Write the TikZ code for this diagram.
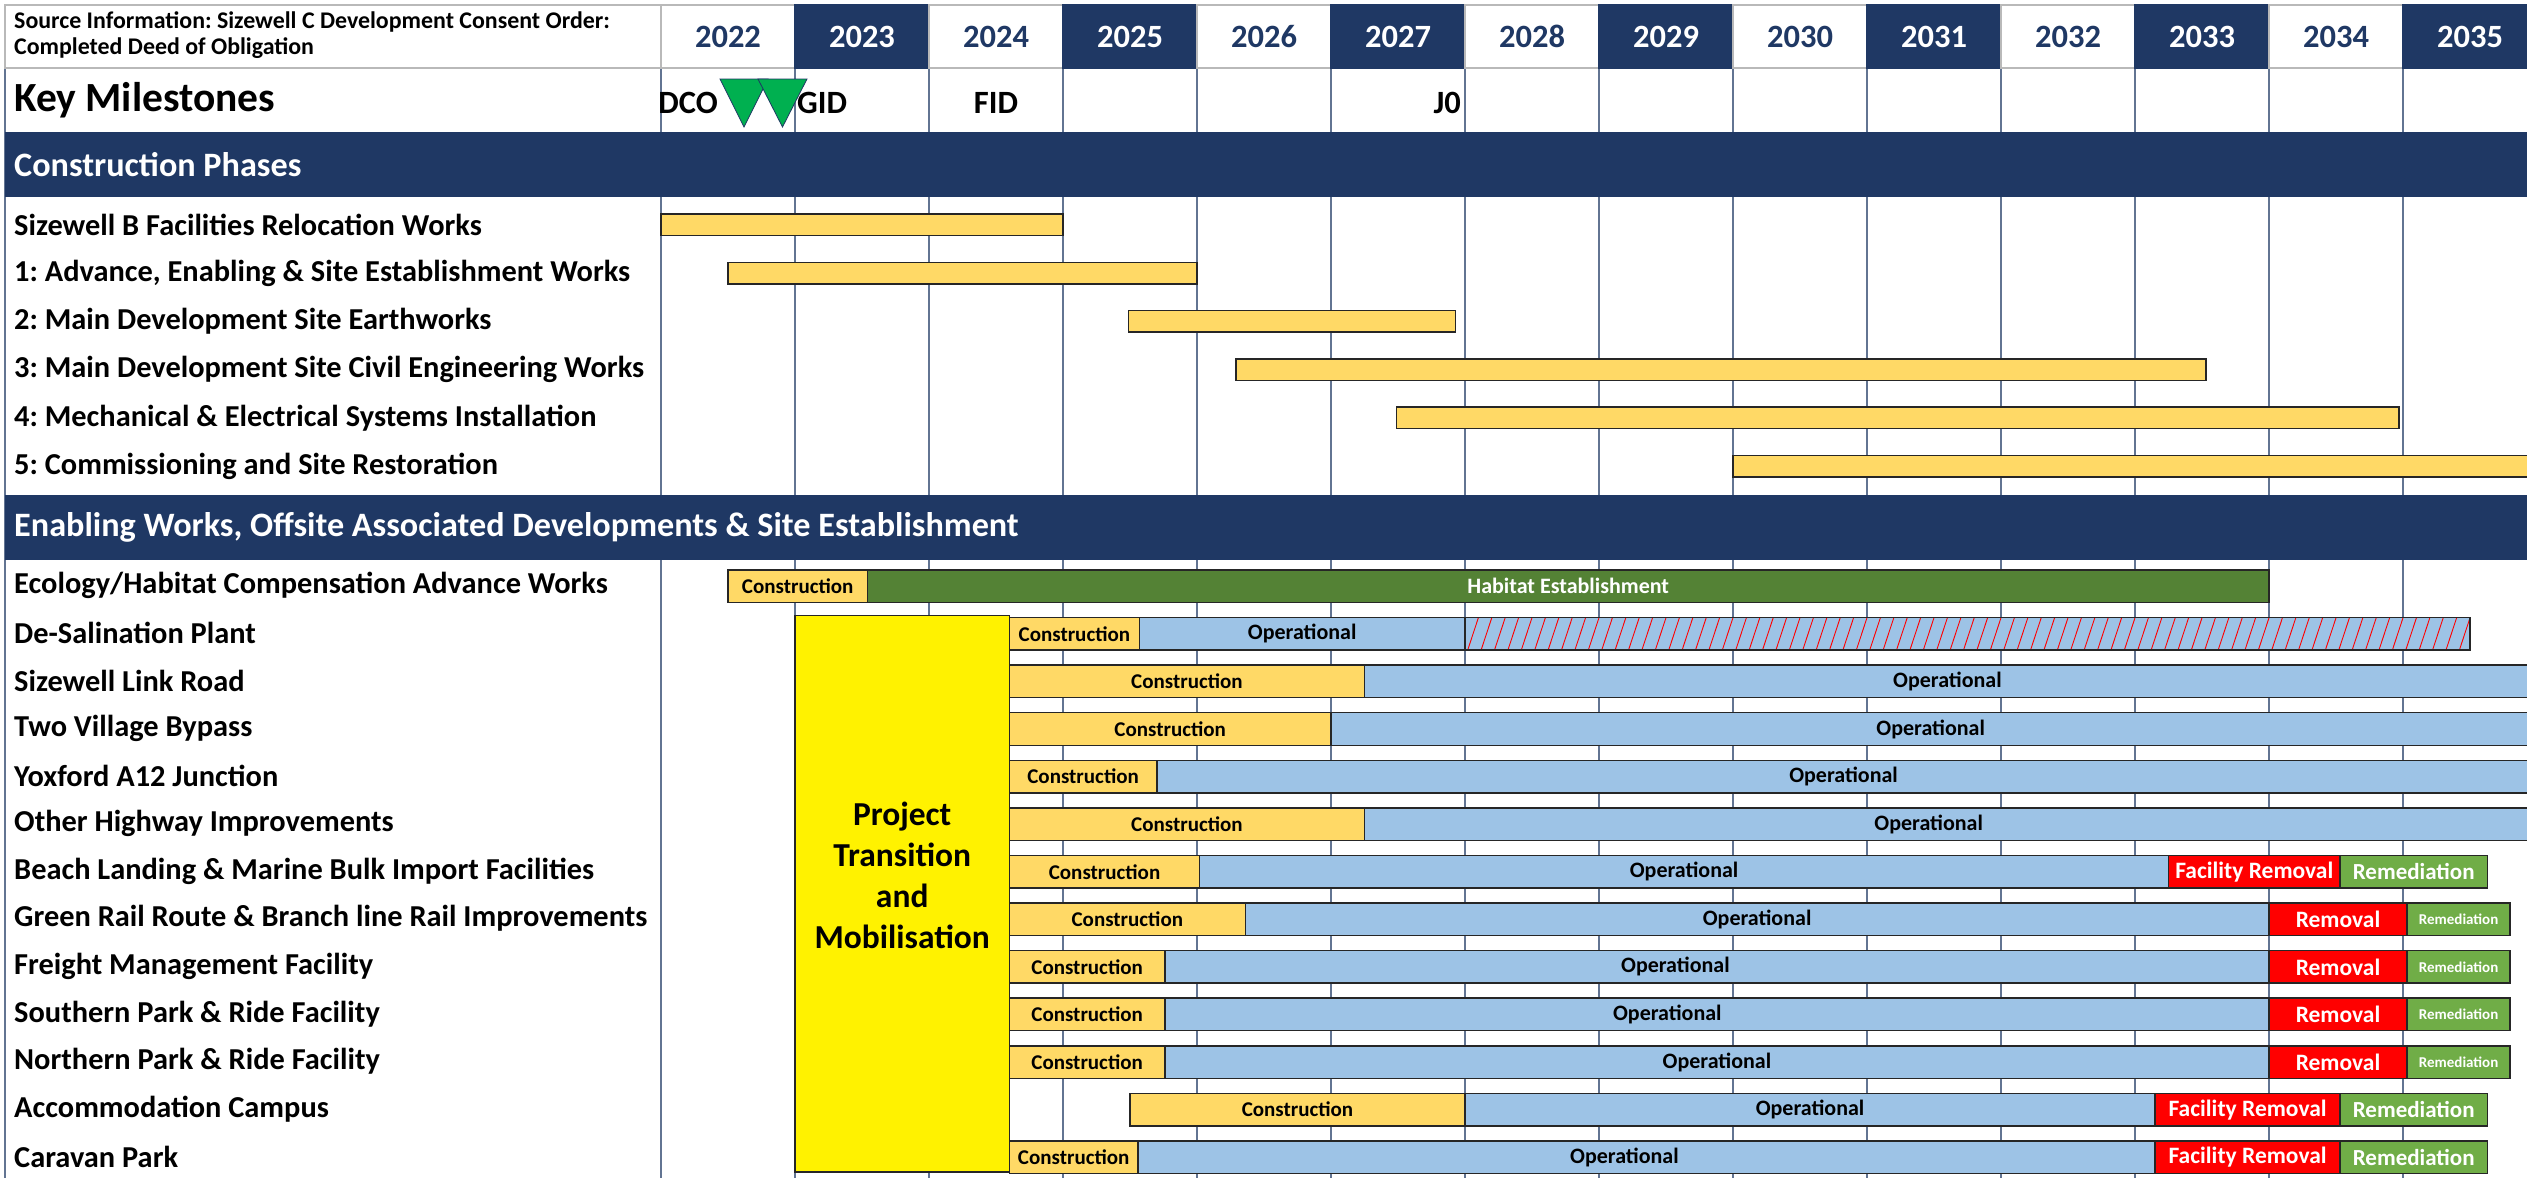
\documentclass[tikz,border=0pt]{standalone}
\usepackage{fontspec}
\setmainfont{Carlito}
\frenchspacing

\definecolor{navy}{HTML}{1F3864}
\definecolor{congold}{HTML}{FFD966}
\definecolor{opblue}{HTML}{9DC3E6}
\definecolor{habgreen}{HTML}{548235}
\definecolor{remgreen}{HTML}{70AD47}
\definecolor{msgreen}{HTML}{00B050}

\tikzset{
    gridln/.style={draw=navy!70, line width=1.2pt},
    hdrcell/.style={draw=gray!55, line width=1.5pt, fill=white, font=\bfseries\fontsize{32.5}{34}\selectfont},
    hdrnavy/.style={hdrcell, draw=navy, fill=navy},
    lbl/.style={anchor=west, inner sep=0pt, font=\bfseries\fontsize{30.4}{32}\selectfont},
    bandtxt/.style={lbl, text=white, font=\bfseries\fontsize{34.2}{36}\selectfont},
    srctxt/.style={lbl, align=left, font=\bfseries\fontsize{23.9}{26}\selectfont},
    mstxt/.style={inner sep=0pt, font=\bfseries\fontsize{32.5}{34}\selectfont},
    tri/.style={fill=msgreen, draw=navy, line width=0.8pt},
    bar/.style={draw=black!85, line width=1.5pt, font=\bfseries\fontsize{21}{23}\selectfont},
    con/.style={bar, fill=congold},
    opr/.style={bar, fill=opblue, font=\bfseries\fontsize{22}{24}\selectfont},
    optxt/.style={font=\bfseries\fontsize{22}{24}\selectfont},
    hab/.style={bar, fill=habgreen, text=white, font=\bfseries\fontsize{22}{24}\selectfont},
    rmv/.style={bar, fill=red, text=white, font=\bfseries\fontsize{23.5}{25}\selectfont},
    rmd/.style={bar, fill=remgreen, text=white, font=\bfseries\fontsize{23}{25}\selectfont},
    rmdsm/.style={rmd, font=\bfseries\fontsize{15}{17}\selectfont}
}

% phase bar: from, to, row
\newcommand{\phasebar}[3]{\draw[con] (#1,{214+48.26*#3}) rectangle (#2,{235.5+48.26*#3});}
% enabling works segment: style, from, to, row, text
\newcommand{\seg}[5]{\draw[#1] (#2,{570+47.58*#4}) rectangle (#3,{602.5+47.58*#4}) node[midway] {#5};}

\begin{document}
\begin{tikzpicture}[x=1pt, y=-1pt]
    \useasboundingbox (0,0) rectangle (2527,1178);
    \clip (0,0) rectangle (2527,1178);

    % grid and header
    \draw[gridln] (5,68) -- (5,1178);
    \begin{scope}[xshift=661pt, x=134pt]
        \foreach \i in {0,...,13} \draw[gridln] (\i,68) -- (\i,1178);
        \foreach \yr [count=\i from 0] in {2022,...,2035} {
            \ifodd\yr
                \draw[hdrnavy] (\i,5) rectangle (\i+1,68) node[midway, text=white] (y\yr) {\yr};
            \else
                \draw[hdrcell] (\i,5) rectangle (\i+1,68) node[midway, text=navy] (y\yr) {\yr};
            \fi
        }
    \end{scope}
    \draw[hdrcell] (5,5) rectangle (661,68);
    \node[srctxt] (src) at (14,35) {Source Information: Sizewell C Development Consent Order:\\Completed Deed of Obligation};

    % milestones
    \node[lbl, font=\bfseries\fontsize{41.5}{43}\selectfont] (keyms) at (14,100) {Key Milestones};
    \draw[tri] (720,79) -- (768,79) -- (744,127) -- cycle;
    \draw[tri] (758,79) -- (807,79) -- (782.5,127) -- cycle;
    \node[mstxt, anchor=east] (dco) at (718,103) {DCO};
    \node[mstxt, anchor=west] (gid) at (797,103) {GID};
    \node[mstxt] (fid) at (996,103) {FID};
    \node[mstxt, anchor=east] (jzero) at (1461,103) {J0};

    % section bands
    \fill[navy] (5,132) rectangle (2527,197);
    \node[bandtxt] (cphase) at (14,164.5) {Construction Phases};
    \fill[navy] (5,495) rectangle (2527,560);
    \node[bandtxt] (enab) at (14,527.5) {Enabling Works, Offsite Associated Developments \& Site Establishment};

    % row titles
    \foreach \t [count=\i from 0] in {Sizewell B Facilities Relocation Works,
        {1: Advance, Enabling \& Site Establishment Works},
        2: Main Development Site Earthworks,
        3: Main Development Site Civil Engineering Works,
        4: Mechanical \& Electrical Systems Installation,
        5: Commissioning and Site Restoration}
        \node[lbl] (ph\i) at (14,{225+48.26*\i}) {\t};
    \foreach \t [count=\i from 0] in {Ecology/Habitat Compensation Advance Works,
        De-Salination Plant, Sizewell Link Road, Two Village Bypass,
        Yoxford A12 Junction, Other Highway Improvements,
        Beach Landing \& Marine Bulk Import Facilities,
        Green Rail Route \& Branch line Rail Improvements,
        Freight Management Facility, Southern Park \& Ride Facility,
        Northern Park \& Ride Facility, Accommodation Campus, Caravan Park}
        \node[lbl] (ew\i) at (14,{585.5+47.58*\i}) {\t};

    \begin{scope}[xshift=661pt, x=134pt]
        % construction phases
        \phasebar{0}{3}{0}
        \phasebar{0.5}{4}{1}
        \phasebar{3.49}{5.93}{2}
        \phasebar{4.29}{11.53}{3}
        \phasebar{5.49}{12.97}{4}
        \phasebar{8}{14.2}{5}

        % enabling works
        \seg{con}{0.5}{1.54}{0}{Construction}
        \seg{hab}{1.54}{12}{0}{Habitat Establishment}

        \seg{con}{2.6}{3.57}{1}{Construction}
        \seg{opr}{3.57}{6}{1}{Operational}
        \begin{scope}
            \clip (6,617.6) rectangle (13.5,650.1);
            \fill[opblue] (6,617.6) rectangle (13.5,650.1);
            \foreach \h in {0,...,76}
                \draw[red, line width=0.9pt] ({6+0.1*\h-0.08},650.1) -- ({6+0.1*\h},617.6);
        \end{scope}
        \draw[bar] (6,617.6) rectangle (13.5,650.1);

        \seg{con}{2.6}{5.25}{2}{Construction}
        \seg{opr}{5.25}{13.95}{2}{Operational}
        \seg{con}{2.6}{5}{3}{Construction}
        \seg{opr}{5}{13.95}{3}{Operational}
        \seg{con}{2.6}{3.7}{4}{Construction}
        \seg{opr}{3.7}{13.95}{4}{Operational}
        \seg{con}{2.6}{5.25}{5}{Construction}
        \seg{opr}{5.25}{13.95}{5}{}
        \node[optxt] (ohop) at (9.46,{586.25+47.58*5}) {Operational};

        \seg{con}{2.6}{4.02}{6}{Construction}
        \seg{opr}{4.02}{11.25}{6}{Operational}
        \seg{rmv}{11.25}{12.53}{6}{Facility Removal}
        \seg{rmd}{12.53}{13.63}{6}{Remediation}

        \seg{con}{2.6}{4.36}{7}{Construction}
        \seg{opr}{4.36}{12}{7}{Operational}
        \seg{rmv}{12}{13.03}{7}{Removal}
        \seg{rmdsm}{13.03}{13.8}{7}{Remediation}

        \foreach \r/\ox in {8/7.57, 9/7.51, 10/7.88} {
            \seg{con}{2.6}{3.76}{\r}{Construction}
            \seg{opr}{3.76}{12}{\r}{}
            \node[optxt] (op\r) at (\ox,{586.25+47.58*\r}) {Operational};
            \seg{rmv}{12}{13.03}{\r}{Removal}
            \seg{rmdsm}{13.03}{13.8}{\r}{Remediation}
        }

        \seg{con}{3.5}{6}{11}{Construction}
        \seg{opr}{6}{11.15}{11}{Operational}
        \seg{rmv}{11.15}{12.53}{11}{Facility Removal}
        \seg{rmd}{12.53}{13.63}{11}{Remediation}

        \seg{con}{2.6}{3.56}{12}{Construction}
        \seg{opr}{3.56}{11.15}{12}{}
        \node[optxt] (cpop) at (7.19,{586.25+47.58*12}) {Operational};
        \seg{rmv}{11.15}{12.53}{12}{Facility Removal}
        \seg{rmd}{12.53}{13.63}{12}{Remediation}

        % transition box
        \draw[bar, fill=yellow] (1,615.7) rectangle (2.6,1172);
        \node[align=center, font=\bfseries\fontsize{33.5}{41}\selectfont] (ptm) at (1.8,875) {Project\\Transition\\and\\Mobilisation};
    \end{scope}
\end{tikzpicture}
\end{document}
